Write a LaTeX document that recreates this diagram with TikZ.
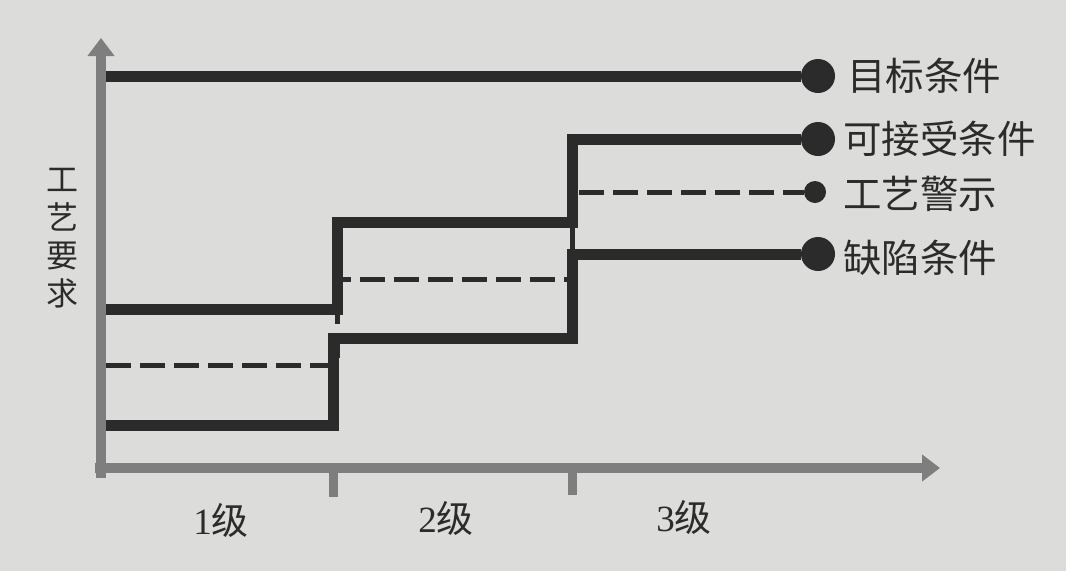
\documentclass[tikz,border=0pt]{standalone}
\usepackage{fontspec}
\newfontfamily\cjk{Noto Sans CJK SC}
\setmainfont{Liberation Serif}
\usetikzlibrary{arrows.meta}
\definecolor{bgcol}{HTML}{DCDCDA}
\definecolor{ink}{HTML}{2B2B2B}
\definecolor{axiscol}{HTML}{7E7E7E}
\tikzset{
  axisline/.style={draw=axiscol, line width=10pt},
  tickline/.style={draw=axiscol, line width=9pt},
  stepline/.style={draw=ink, line width=11pt, line join=miter},
  warnline/.style={draw=ink, line width=5pt, dash pattern=on 25pt off 9pt},
  bigdot/.style={circle, fill=ink, inner sep=0pt, minimum size=34pt},
  smalldot/.style={circle, fill=ink, inner sep=0pt, minimum size=22pt},
  lab/.style={anchor=west, inner sep=0pt, text=ink, font=\cjk\fontsize{38.5}{44}\selectfont},
  axlab/.style={inner sep=0pt, text=ink, font=\fontsize{37}{42}\selectfont},
}
\begin{document}
\begin{tikzpicture}[x=1pt,y=-1pt]
\fill[bgcol] (0,0) rectangle (1066,571);
\useasboundingbox (0,0) rectangle (1066,571);
% axes
\coordinate (yb) at (101,478);
\coordinate (yt) at (101,38);
\coordinate (xl) at (95,468);
\coordinate (xr) at (940,468);
\draw[axisline,-{Triangle[width=26pt,length=18pt]}] (yb) -- (yt);
\draw[axisline,-{Triangle[width=26pt,length=18pt]}] (xl) -- (xr);
\coordinate (t1a) at (333,466);
\coordinate (t1b) at (333,497);
\coordinate (t2a) at (572,466);
\coordinate (t2b) at (572,495);
\draw[tickline] (t1a) -- (t1b);
\draw[tickline] (t2a) -- (t2b);
% dots
\node[bigdot] (dT) at (818,76) {};
\node[bigdot] (dA) at (818,139) {};
\node[smalldot] (dW) at (815,192) {};
\node[bigdot] (dD) at (818,254) {};
% labels
\node[lab] (lT) at (847,76) {目标条件};
\node[lab] (lA) at (843,139) {可接受条件};
\node[lab] (lW) at (843,194) {工艺警示};
\node[lab] (lD) at (843,258) {缺陷条件};
% lines
\coordinate (sT) at (106,76);
\coordinate (sA) at (106,309);
\coordinate (sW) at (106,365);
\coordinate (sD) at (106,425);
\draw[stepline] (sT) -- (dT);
\draw[stepline] (sA) -| (337,222) -| (572,139) -- (dA);
\draw[warnline] (sW) -| (337,279) -| (572,192) -- (dW);
\draw[stepline] (sD) -| (333,338) -| (572,254) -- (dD);
% axis labels
\node[axlab, align=center, font=\cjk\fontsize{32}{38}\selectfont] (ylab) at (62,238) {工\\艺\\要\\求};
\node[axlab] (x1) at (221,520) {1{\cjk 级}};
\node[axlab] (x2) at (446,518) {2{\cjk 级}};
\node[axlab] (x3) at (684,517) {3{\cjk 级}};
\end{tikzpicture}
\end{document}
